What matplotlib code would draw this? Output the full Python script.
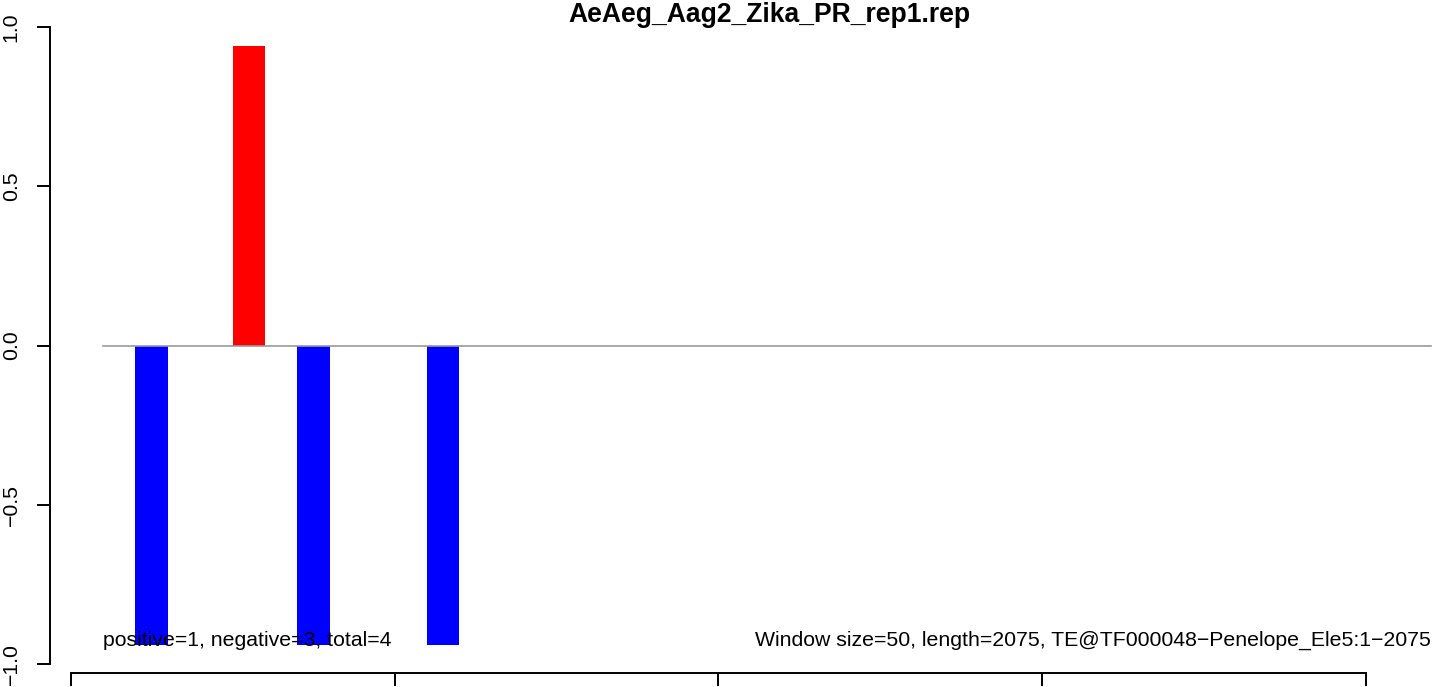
import matplotlib
matplotlib.use("Agg")
import matplotlib.pyplot as plt

plt.rcParams["font.family"] = ["Liberation Sans", "DejaVu Sans"]

# dados (janelas de 50 bp)
titulo = "AeAeg_Aag2_Zika_PR_rep1.rep"
inicio_janela = [100, 250, 350, 550]
valores = [-0.94, 0.94, -0.94, -0.94]
cores = ["#0000ff", "#ff0000", "#0000ff", "#0000ff"]
largura_janela = 50
faixa_linha = [50, 2100]
xticks = [0, 500, 1000, 1500, 2000]
yticks = [-1.0, -0.5, 0.0, 0.5, 1.0]
texto_esq = "positive=1, negative=3, total=4"
texto_dir = "Window size=50, length=2075, TE@TF000048\u2212Penelope_Ele5:1\u22122075"

W, H = 1444, 687
fig = plt.figure(figsize=(W / 100, H / 100), dpi=100)
left_px, right_px, top_px, bot_px = 50, 1484, 1.5, 689.5
ax = fig.add_axes([left_px / W, (H - bot_px) / H,
                   (right_px - left_px) / W, (bot_px - top_px) / H])
ax.set_xlim(-32, 2182)
ax.set_ylim(-1.08, 1.08)

ax.bar(inicio_janela, valores, width=largura_janela, align="edge",
       color=cores, linewidth=0)
ax.plot(faixa_linha, [0, 0], color="#999999", lw=1.2, zorder=1)

ax.text(faixa_linha[0], -0.943, texto_esq, ha="left", va="baseline", fontsize=15.3)
ax.text(faixa_linha[1], -0.943, texto_dir, ha="right", va="baseline", fontsize=15.3)

# eixos estilo R
for s in ["top", "right"]:
    ax.spines[s].set_visible(False)
ax.spines["left"].set_bounds(-1, 1)
ax.spines["left"].set_linewidth(1.4)
ax.spines["bottom"].set_position(("data", -1.028))
ax.spines["bottom"].set_bounds(0, 2000)
ax.spines["bottom"].set_linewidth(1.4)

ax.set_xticks(xticks)
ax.set_yticks(yticks)
ax.set_yticklabels([f"{v:.1f}".replace("-", "\u2212") for v in yticks])
ax.tick_params(axis="x", length=9.5, width=1.4, labelbottom=False)
ax.tick_params(axis="y", length=9.5, width=1.4, pad=11.5, labelsize=15.3)
for lab in ax.get_yticklabels():
    lab.set_rotation(90)
    lab.set_va("center")

fig.text(769 / W, 1 - 21.5 / H, titulo, ha="center", va="baseline",
         fontsize=19.1, fontweight="bold")

fig.savefig("out.png", dpi=100)
plt.close(fig)
